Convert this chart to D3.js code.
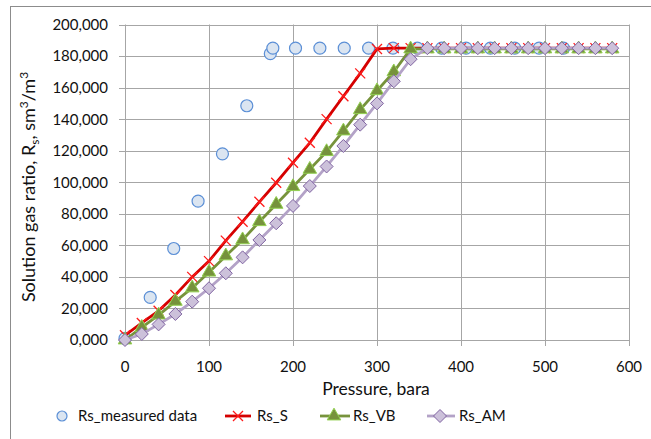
<!DOCTYPE html>
<html>
<head>
<meta charset="utf-8">
<script src="https://cdn.jsdelivr.net/npm/d3@7"></script>
<style>
  body { margin: 0; background: #fff; }
  svg { display: block; font-family: Lato, "Open Sans", sans-serif; }
  .grid line { stroke: #a6a6a6; stroke-width: 1; }
  .axis text { font-size: 15px; fill: #111; }
</style>
</head>
<body>
<svg id="chart" width="651" height="439"></svg>
<script>
// measured points
const measP = [0, 30, 58, 87, 116, 145, 173, 176, 203, 232, 261, 290, 319, 348, 377, 406, 435, 464, 493, 522];
const measRs = [1000, 27000, 58000, 88000, 118000, 148500, 181500, 185000, 185000, 185000, 185000, 185000,
  185000, 185000, 185000, 185000, 185000, 185000, 185000, 185000];

// correlation points (pressure, bara)
const corrP = [0, 20, 40, 60, 80, 100, 120, 140, 160, 180, 200, 220, 240, 260, 280,
  300, 320, 340, 360, 380, 400, 420, 440, 460, 480, 500, 520, 540, 560, 580];
const rsS = [3000, 10800, 18500, 28500, 40000, 50000, 63000, 75000, 87600, 99700, 112400, 125000, 140000, 154500, 169000,
  184500, 185000, 185000, 185000, 185000, 185000, 185000, 185000, 185000, 185000, 185000, 185000, 185000, 185000, 185000];
const rsVB = [0, 8000, 15800, 24500, 33000, 43000, 53300, 63500, 75000, 86000, 97200, 108200, 119400, 132500, 146000,
  158000, 170000, 184500, 184500, 184500, 184500, 184500, 184500, 184500, 184500, 184500, 184500, 184500, 184500, 184500];
const rsAM = [0, 3800, 9900, 16500, 24300, 32800, 42300, 52400, 63400, 74000, 85000, 97600, 110000, 123000, 136500,
  150000, 164000, 178000, 185000, 185000, 185000, 185000, 185000, 185000, 185000, 185000, 185000, 185000, 185000, 185000];

const xTicks = [0, 100, 200, 300, 400, 500, 600];
const yTicks = [0, 20000, 40000, 60000, 80000, 100000, 120000, 140000, 160000, 180000, 200000];

const svg = d3.select("#chart");

// chart area border
svg.append("rect")
  .attr("x", 10.5).attr("y", 6.5)
  .attr("width", 700).attr("height", 500)
  .attr("fill", "none").attr("stroke", "#8c8c8c");

const x = d3.scaleLinear().domain([0, 600]).range([125, 629]);
const y = d3.scaleLinear().domain([0, 200000]).range([340, 24.5]);

const fmt = d => d === 0 ? "0,000" : d3.format(",")(d);

// gridlines
const grid = svg.append("g").attr("class", "grid");
grid.selectAll(".h").data(yTicks).join("line")
  .attr("x1", x(0) - 6).attr("x2", x(600))
  .attr("y1", d => Math.round(y(d)) + 0.5).attr("y2", d => Math.round(y(d)) + 0.5);
grid.selectAll(".v").data(xTicks).join("line")
  .attr("x1", d => Math.round(x(d)) + 0.5).attr("x2", d => Math.round(x(d)) + 0.5)
  .attr("y1", y(200000)).attr("y2", y(0) + 6);

// tick labels
svg.append("g").attr("class", "axis")
  .selectAll("text").data(yTicks).join("text")
  .attr("x", 108).attr("y", d => y(d))
  .attr("dy", "0.36em").attr("text-anchor", "end")
  .text(fmt);

svg.append("g").attr("class", "axis")
  .selectAll("text").data(xTicks).join("text")
  .attr("x", d => x(d)).attr("y", 367)
  .attr("dy", "0.36em").attr("text-anchor", "middle")
  .text(d => d);

// axis titles
svg.append("text")
  .attr("x", 376).attr("y", 395)
  .attr("text-anchor", "middle")
  .attr("font-size", 17.5).attr("fill", "#111")
  .text("Pressure, bara");

const yt = svg.append("text")
  .attr("transform", "translate(35,187) rotate(-90)")
  .attr("text-anchor", "middle")
  .attr("font-size", 18).attr("fill", "#111");
yt.append("tspan").text("Solution gas ratio, R");
yt.append("tspan").attr("font-size", 12).attr("dy", 4).text("s");
yt.append("tspan").attr("dy", -4).text(", sm");
yt.append("tspan").attr("font-size", 12).attr("dy", -7).text("3");
yt.append("tspan").attr("dy", 7).text("/m");
yt.append("tspan").attr("font-size", 12).attr("dy", -7).text("3");

// marker shapes
const cross = "M-5,-5L5,5M-5,5L5,-5";
const tri = d3.symbol().type(d3.symbolTriangle).size(80);
const diamond = "M0,-6.5L6.5,0L0,6.5L-6.5,0Z";

const line = d3.line().x(d => x(d[0])).y(d => y(d[1]));

// measured
const meas = d3.zip(measP, measRs);
svg.append("g").selectAll("circle").data(meas).join("circle")
  .attr("cx", d => x(d[0])).attr("cy", d => y(d[1])).attr("r", 6)
  .attr("fill", "#dbe5f1").attr("stroke", "#5b8fd6").attr("stroke-width", 1.2);

// Rs_S
const sData = d3.zip(corrP, rsS);
svg.append("path").datum(sData).attr("d", line)
  .attr("fill", "none").attr("stroke", "#d40000").attr("stroke-width", 2.8);
svg.append("g").selectAll("path").data(sData).join("path")
  .attr("transform", d => `translate(${x(d[0])},${y(d[1])})`)
  .attr("d", cross).attr("fill", "none").attr("stroke", "#ff1a1a").attr("stroke-width", 1.3);

// Rs_VB
const vbData = d3.zip(corrP, rsVB);
svg.append("path").datum(vbData).attr("d", line)
  .attr("fill", "none").attr("stroke", "#77933c").attr("stroke-width", 2.8);
svg.append("g").selectAll("path").data(vbData).join("path")
  .attr("transform", d => `translate(${x(d[0])},${y(d[1])})`)
  .attr("d", tri).attr("fill", "#76923c").attr("stroke", "#92d050").attr("stroke-width", 1);

// Rs_AM
const amData = d3.zip(corrP, rsAM);
svg.append("path").datum(amData).attr("d", line)
  .attr("fill", "none").attr("stroke", "#b3a2c7").attr("stroke-width", 2.8);
svg.append("g").selectAll("path").data(amData).join("path")
  .attr("transform", d => `translate(${x(d[0])},${y(d[1])})`)
  .attr("d", diamond).attr("fill", "#ccc1da").attr("stroke", "#8064a2").attr("stroke-width", 1);

// legend
const lg = svg.append("g").attr("font-size", 15).attr("fill", "#111");
const ly = 416;
lg.append("circle").attr("cx", 62).attr("cy", ly).attr("r", 5)
  .attr("fill", "#dbe5f1").attr("stroke", "#5b8fd6").attr("stroke-width", 1.2);
lg.append("text").attr("x", 78).attr("y", ly).attr("dy", "0.36em").text("Rs_measured data");

lg.append("line").attr("x1", 225).attr("x2", 251).attr("y1", ly).attr("y2", ly)
  .attr("stroke", "#d40000").attr("stroke-width", 2.8);
lg.append("path").attr("transform", `translate(238,${ly})`).attr("d", cross)
  .attr("fill", "none").attr("stroke", "#ff1a1a").attr("stroke-width", 1.3);
lg.append("text").attr("x", 257).attr("y", ly).attr("dy", "0.36em").text("Rs_S");

lg.append("line").attr("x1", 320).attr("x2", 350).attr("y1", ly).attr("y2", ly)
  .attr("stroke", "#77933c").attr("stroke-width", 2.8);
lg.append("path").attr("transform", `translate(334,${ly})`).attr("d", tri)
  .attr("fill", "#76923c").attr("stroke", "#92d050");
lg.append("text").attr("x", 353).attr("y", ly).attr("dy", "0.36em").text("Rs_VB");

lg.append("line").attr("x1", 427).attr("x2", 455).attr("y1", ly).attr("y2", ly)
  .attr("stroke", "#b3a2c7").attr("stroke-width", 2.8);
lg.append("path").attr("transform", `translate(440,${ly})`).attr("d", diamond)
  .attr("fill", "#ccc1da").attr("stroke", "#8064a2");
lg.append("text").attr("x", 459).attr("y", ly).attr("dy", "0.36em").text("Rs_AM");
</script>
</body>
</html>
